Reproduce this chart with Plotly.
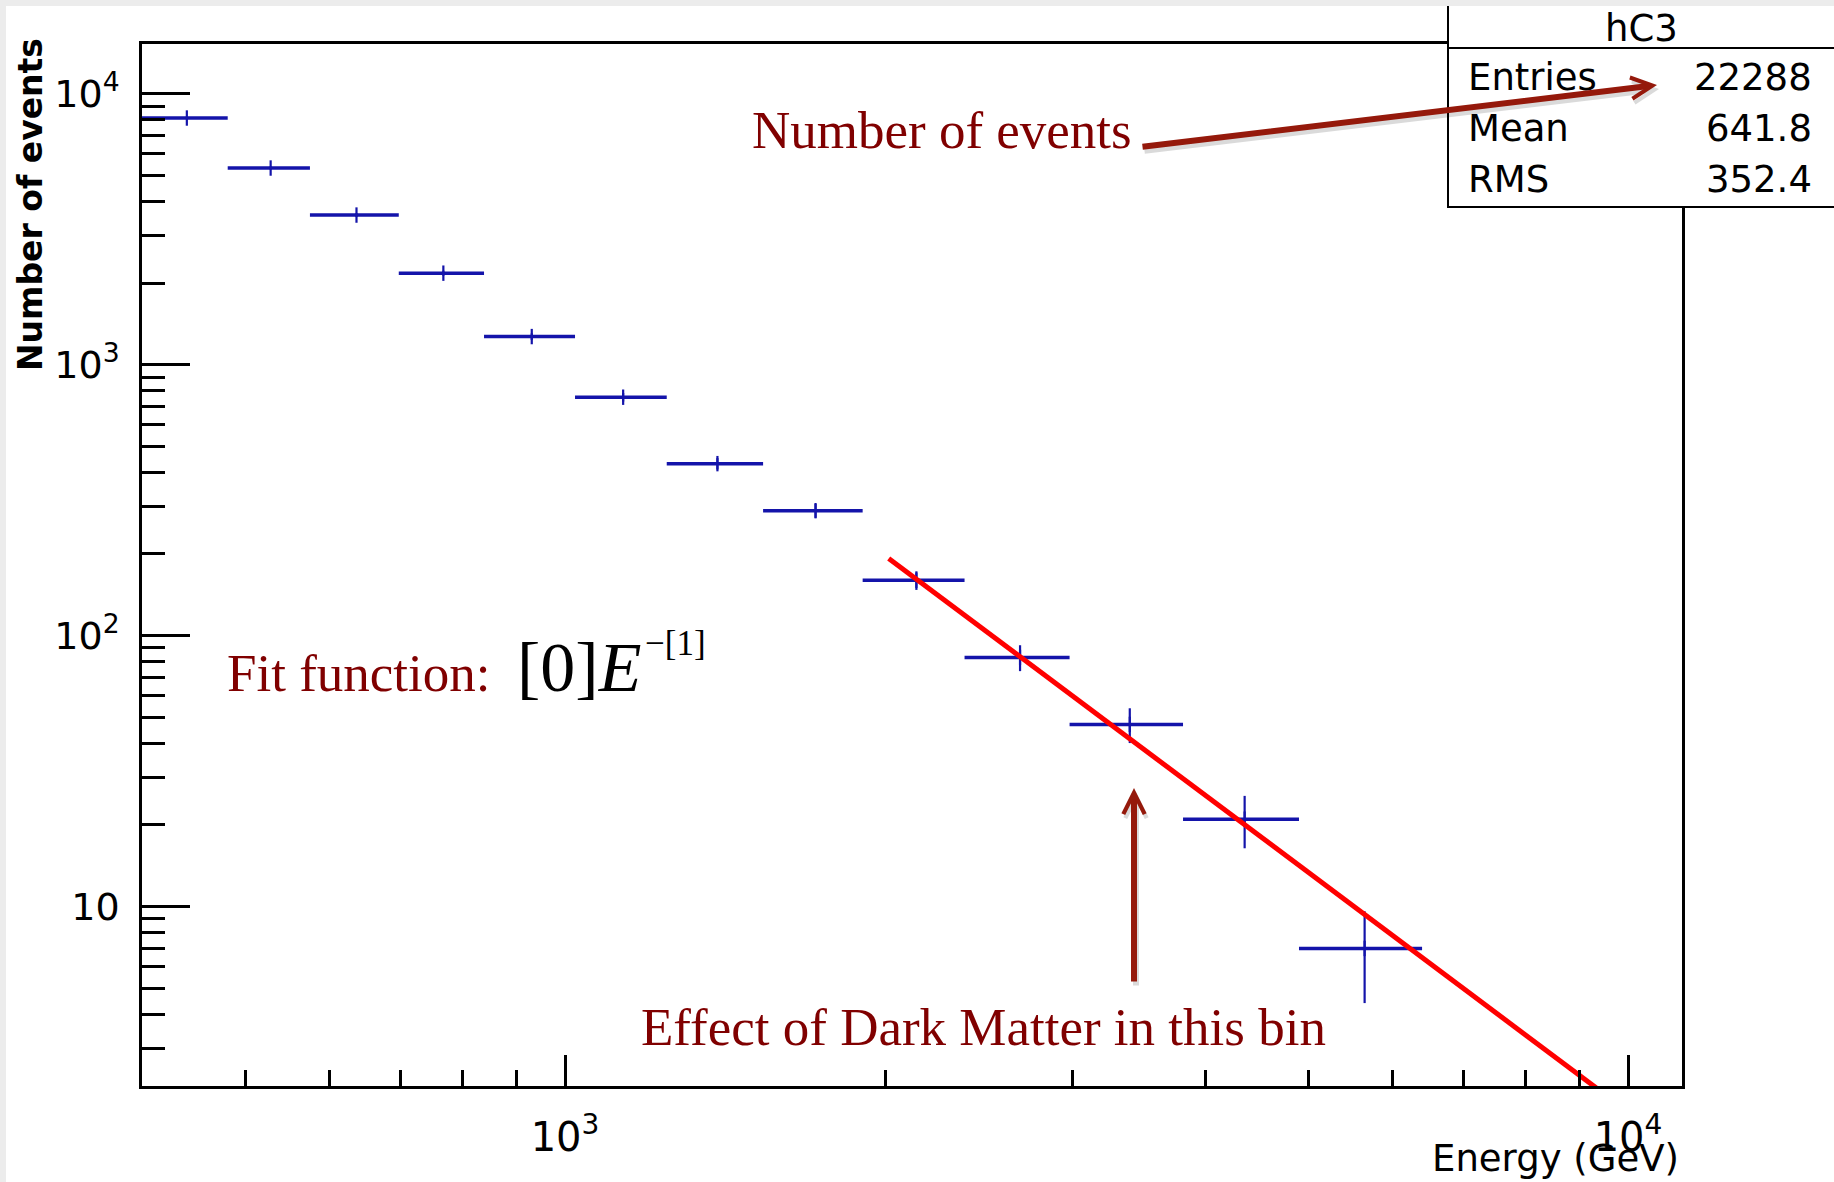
import math
import plotly.graph_objects as go

# ---- histogram hC3: bin edges (GeV), contents and statistical errors ----
bin_low = [400.0, 481.6, 575.5, 697.6, 839.1, 1021.9, 1246.5, 1535.8,
           1905.4, 2376.0, 2983.0, 3814.0, 4903.0]
bin_high = [481.6, 575.5, 697.6, 839.1, 1021.9, 1246.5, 1535.8, 1905.4,
            2376.0, 2983.0, 3814.0, 4903.0, 6401.0]
counts = [8130, 5315, 3564, 2175, 1269, 758, 431, 289, 160, 83, 47, 21, 7]
count_err = [90.2, 72.9, 59.7, 46.6, 35.6, 27.5, 20.8, 17.0, 12.6, 9.1,
             6.9, 4.6, 2.6]

# ---- power-law fit  [0] * E^-[1]  and its range ----
fit_params = [9.7e11, 2.936]
fit_range = [2016.0, 10000.0]

# ---- statistics box ----
stats_title = "hC3"
stats_labels = ["Entries", "Mean", "RMS"]
stats_values = ["22288", "641.8", "352.4"]

# ---- axes ----
x_range = [400.0, 11240.0]
y_range = [2.175, 15250.0]
x_tickvals = [1000, 10000]
x_ticktext = ["10<sup>3</sup>", "10<sup>4</sup>"]
x_minor = [500, 600, 700, 800, 900, 2000, 3000, 4000, 5000, 6000, 7000,
           8000, 9000]
y_tickvals = [10, 100, 1000, 10000]
y_ticktext = ["10", "10<sup>2</sup>", "10<sup>3</sup>", "10<sup>4</sup>"]
y_minor = [3, 4, 5, 6, 7, 8, 9, 20, 30, 40, 50, 60, 70, 80, 90,
           200, 300, 400, 500, 600, 700, 800, 900,
           2000, 3000, 4000, 5000, 6000, 7000, 8000, 9000]

W, H = 1834, 1182
ML, MR, MT, MB = 142, 152, 44, 96
PW, PH = W - ML - MR, H - MT - MB

ROOT_FONT = "DejaVu Sans"
SERIF = "Liberation Serif"
DARK_RED = "#800000"
ARROW_RED = "#95190b"
BLUE = "#1414aa"


def xp(px):
    return (px - ML) / PW


def yp(py):
    return (H - MB - py) / PH


centers = [(lo + hi) / 2 for lo, hi in zip(bin_low, bin_high)]
err_plus = [hi - c for hi, c in zip(bin_high, centers)]
err_minus = [c - lo for lo, c in zip(bin_low, centers)]

fig = go.Figure()

fig.add_trace(go.Scatter(
    x=centers, y=counts, mode="markers",
    marker=dict(symbol="line-ns", size=11, color=BLUE,
                line=dict(color=BLUE, width=2.2)),
    error_x=dict(type="data", symmetric=False, array=err_plus,
                 arrayminus=err_minus, color=BLUE, thickness=3.5, width=0),
    error_y=dict(type="data", array=count_err, color=BLUE, thickness=2.2,
                 width=0),
    showlegend=False, hoverinfo="skip",
))

fit_y = [fit_params[0] * e ** (-fit_params[1]) for e in fit_range]
fig.add_trace(go.Scatter(
    x=fit_range, y=fit_y, mode="lines",
    line=dict(color="#ff0000", width=5),
    showlegend=False, hoverinfo="skip",
))

axis_common = dict(
    type="log", showgrid=False, zeroline=False,
    showline=True, linecolor="black", linewidth=2.5, mirror=True,
    ticks="inside", tickcolor="black", tickwidth=2.5,
    tickmode="array",
)

fig.update_xaxes(
    **axis_common,
    range=[math.log10(v) for v in x_range],
    tickvals=x_tickvals, ticktext=x_ticktext, ticklen=31,
    tickfont=dict(family=ROOT_FONT, size=40, color="black"),
    ticklabelstandoff=14,
    minor=dict(tickmode="array", tickvals=x_minor, ticks="inside",
               ticklen=16, tickwidth=2.5, tickcolor="black"),
)
fig.update_yaxes(
    **axis_common,
    range=[math.log10(v) for v in y_range],
    tickvals=y_tickvals, ticktext=y_ticktext, ticklen=48,
    tickfont=dict(family=ROOT_FONT, size=38, color="black"),
    ticklabelstandoff=12,
    minor=dict(tickmode="array", tickvals=y_minor, ticks="inside",
               ticklen=23, tickwidth=2.5, tickcolor="black"),
)

shapes = [
    # statistics box with header separator
    dict(type="rect", xref="paper", yref="paper",
         x0=xp(1448), x1=xp(1850), y0=yp(207), y1=yp(-10),
         fillcolor="white", line=dict(color="black", width=2),
         layer="above"),
    dict(type="line", xref="paper", yref="paper",
         x0=xp(1448), x1=xp(1850), y0=yp(48), y1=yp(48),
         line=dict(color="black", width=2), layer="above"),
    # thin window edges
    dict(type="rect", xref="paper", yref="paper",
         x0=xp(-5), x1=xp(W + 5), y0=yp(6), y1=yp(-5),
         fillcolor="#ececec", line=dict(width=0), layer="above"),
    dict(type="rect", xref="paper", yref="paper",
         x0=xp(-5), x1=xp(6), y0=yp(H + 5), y1=yp(-5),
         fillcolor="#ececec", line=dict(width=0), layer="above"),
]

ann = []

# axis titles
ann.append(dict(text="<b>Number of events</b>", x=xp(31), y=yp(205),
                textangle=-90, xanchor="center", yanchor="middle",
                font=dict(family=ROOT_FONT, size=33, color="black")))
ann.append(dict(text="Energy (GeV)", x=xp(1681), y=yp(1158),
                xanchor="right", yanchor="middle",
                font=dict(family=ROOT_FONT, size=37, color="black")))

# statistics box text
ann.append(dict(text=stats_title, x=xp(1641), y=yp(28),
                xanchor="center", yanchor="middle",
                font=dict(family=ROOT_FONT, size=37, color="black")))
for i, (lab, val) in enumerate(zip(stats_labels, stats_values)):
    rowy = [77.5, 128, 180][i]
    ann.append(dict(text=lab, x=xp(1466), y=yp(rowy),
                    xanchor="left", yanchor="middle",
                    font=dict(family=ROOT_FONT, size=37, color="black")))
    ann.append(dict(text=val, x=xp(1814), y=yp(rowy),
                    xanchor="right", yanchor="middle",
                    font=dict(family=ROOT_FONT, size=37, color="black")))

# arrows (soft shadow first, then the arrow itself)
arrows = [((1657, 85), (1141, 147)), ((1134, 788), (1134, 983))]
for (hx, hy), (tx, ty) in arrows:
    ann.append(dict(text="", x=xp(hx + 2), y=yp(hy + 4), showarrow=True,
                    ax=tx - hx, ay=ty - hy, arrowhead=5, arrowsize=0.7,
                    arrowwidth=6, arrowcolor="rgba(0,0,0,0.14)"))
    ann.append(dict(text="", x=xp(hx), y=yp(hy), showarrow=True,
                    ax=tx - hx, ay=ty - hy, arrowhead=5, arrowsize=0.7,
                    arrowwidth=6, arrowcolor=ARROW_RED))

# explanatory labels
ann.append(dict(text="Number of events", x=xp(750), y=yp(130),
                xanchor="left", yanchor="middle",
                font=dict(family=SERIF, size=53, color=DARK_RED)))
ann.append(dict(text="Effect of Dark Matter in this bin", x=xp(639),
                y=yp(1027), xanchor="left", yanchor="middle",
                font=dict(family=SERIF, size=53, color=DARK_RED)))
ann.append(dict(text="Fit function:", x=xp(225), y=yp(673),
                xanchor="left", yanchor="middle",
                font=dict(family=SERIF, size=53, color=DARK_RED)))
ann.append(dict(text="[0]<i>E</i>", x=xp(515), y=yp(667),
                xanchor="left", yanchor="middle",
                font=dict(family=SERIF, size=70, color="black")))
ann.append(dict(text="\u2212[1]", x=xp(643), y=yp(643),
                xanchor="left", yanchor="middle",
                font=dict(family=SERIF, size=35, color="black")))

for a in ann:
    a.setdefault("xref", "paper")
    a.setdefault("yref", "paper")
    a.setdefault("showarrow", False)

fig.update_layout(
    width=W, height=H,
    margin=dict(l=ML, r=MR, t=MT, b=MB, pad=0),
    paper_bgcolor="white", plot_bgcolor="white",
    shapes=shapes, annotations=ann,
    showlegend=False,
)

fig.write_html("out.html", config={"displayModeBar": False})
